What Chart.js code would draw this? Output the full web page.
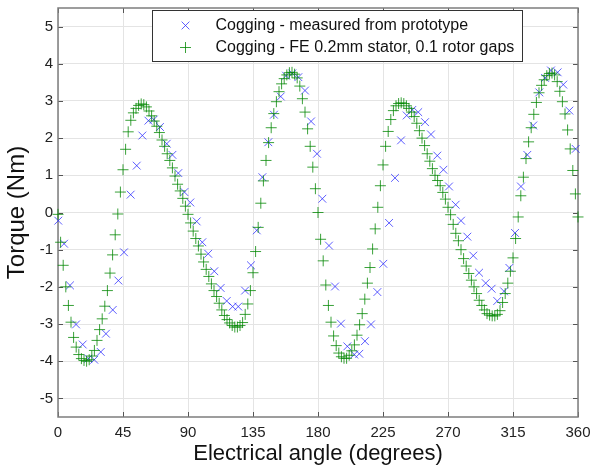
<!DOCTYPE html>
<html lang="en">
<head>
<meta charset="UTF-8">
<title>Cogging torque vs electrical angle</title>
<script src="https://cdn.jsdelivr.net/npm/chart.js"></script>
<style>
  body { margin: 0; background: #fff; }
  #wrap { width: 590px; height: 468px; }
</style>
</head>
<body>
<div id="wrap"><canvas id="cogChart" width="590" height="468"></canvas></div>
<script>
// axis ticks
const angleTicks = [0, 45, 90, 135, 180, 225, 270, 315, 360];
const torqueTicks = [-5, -4, -3, -2, -1, 0, 1, 2, 3, 4, 5];

const legendLabels = [
  'Cogging - measured from prototype',
  'Cogging - FE 0.2mm stator, 0.1 rotor gaps'
];

// measured on the prototype (irregular angles)
const measuredAngle = [
  0.2, 4.2, 8.3, 12.5, 17.1, 21.0, 25.1, 29.6, 33.2, 37.9,
  41.8, 45.7, 50.3, 54.5, 58.4, 62.6, 66.3, 70.6, 75.3, 79.2,
  83.3, 87.5, 91.6, 96.0, 99.9, 104.0, 108.2, 112.6, 116.8, 120.9,
  124.8, 129.5, 133.6, 137.6, 141.5, 145.6, 149.5, 154.2, 157.9, 162.2,
  166.4, 171.0, 175.2, 179.3, 183.0, 187.6, 191.8, 195.9, 200.3, 205.1,
  208.6, 212.5, 216.7, 221.1, 225.2, 229.2, 233.3, 237.5, 241.4, 245.3,
  249.4, 254.1, 258.2, 262.6, 266.8, 270.7, 275.3, 279.0, 283.4, 287.5,
  291.5, 296.1, 300.2, 304.1, 308.8, 312.5, 316.4, 320.5, 324.9, 329.0,
  333.2, 337.2, 341.3, 345.9, 349.8, 354.0, 358.4
];
const measuredTorque = [
  -0.22, -0.84, -1.96, -3.01, -3.55, -3.93, -3.96, -3.75, -3.26, -2.62,
  -1.83, -1.07, 0.48, 1.26, 2.07, 2.47, 2.50, 2.30, 1.85, 1.55,
  1.06, 0.55, 0.27, -0.24, -0.80, -1.11, -1.58, -2.03, -2.38, -2.53,
  -2.53, -2.10, -1.42, -0.48, 0.95, 1.89, 2.63, 3.12, 3.68, 3.74,
  3.64, 3.28, 2.45, 1.58, 0.37, -0.89, -1.99, -2.99, -3.60, -3.82,
  -3.80, -3.46, -3.01, -2.14, -1.38, -0.28, 0.93, 1.94, 2.61, 2.76,
  2.70, 2.43, 2.10, 1.53, 1.15, 0.70, 0.21, -0.22, -0.65, -1.16,
  -1.62, -1.90, -2.05, -2.38, -2.12, -1.49, -0.55, 0.70, 1.55, 2.34,
  3.23, 3.62, 3.82, 3.77, 3.44, 2.74, 1.71
];

// FE result, one value every 1.8 degrees from 0 to 360
const feStep = 1.8;
const feTorque = [
  -0.05, -0.80, -1.42, -2.00, -2.50, -2.95, -3.36, -3.62, -3.82, -3.93,
  -3.98, -4.00, -3.96, -3.86, -3.71, -3.44, -3.15, -2.86, -2.52, -2.10,
  -1.63, -1.14, -0.60, -0.04, 0.55, 1.15, 1.70, 2.17, 2.48, 2.68,
  2.80, 2.88, 2.92, 2.90, 2.84, 2.73, 2.60, 2.46, 2.32, 2.15,
  1.95, 1.78, 1.58, 1.40, 1.20, 0.98, 0.76, 0.58, 0.38, 0.17,
  -0.05, -0.28, -0.50, -0.70, -0.90, -1.12, -1.33, -1.53, -1.72, -1.92,
  -2.10, -2.26, -2.44, -2.62, -2.77, -2.88, -2.97, -3.04, -3.08, -3.08,
  -3.04, -2.96, -2.74, -2.46, -2.10, -1.62, -1.05, -0.40, 0.25, 0.85,
  1.40, 1.88, 2.28, 2.66, 2.98, 3.25, 3.46, 3.60, 3.70, 3.76,
  3.77, 3.72, 3.62, 3.40, 3.06, 2.70, 2.25, 1.78, 1.22, 0.64,
  0.00, -0.72, -1.30, -1.95, -2.50, -2.95, -3.32, -3.58, -3.78, -3.88,
  -3.92, -3.92, -3.84, -3.72, -3.56, -3.30, -3.02, -2.72, -2.33, -1.90,
  -1.48, -0.98, -0.44, 0.14, 0.72, 1.28, 1.78, 2.18, 2.50, 2.74,
  2.87, 2.93, 2.95, 2.93, 2.87, 2.80, 2.70, 2.58, 2.40, 2.20,
  2.00, 1.80, 1.58, 1.38, 1.18, 1.00, 0.86, 0.72, 0.54, 0.36,
  0.14, -0.06, -0.32, -0.56, -0.76, -1.00, -1.24, -1.44, -1.64, -1.82,
  -2.00, -2.18, -2.36, -2.50, -2.62, -2.72, -2.76, -2.78, -2.78, -2.74,
  -2.64, -2.42, -2.18, -1.90, -1.58, -1.22, -0.70, -0.12, 0.45, 0.95,
  1.45, 1.90, 2.28, 2.64, 2.96, 3.22, 3.42, 3.57, 3.68, 3.74,
  3.75, 3.70, 3.52, 3.26, 2.98, 2.65, 2.22, 1.71, 1.13, 0.50,
  -0.12
];

const blueMark = 'rgba(40, 40, 255, 0.75)';
const greenMark = 'rgba(0, 135, 0, 0.78)';

const measuredPoints = measuredAngle.map((a, i) => ({ x: a, y: measuredTorque[i] }));
const fePoints = feTorque.map((t, i) => ({ x: i * feStep, y: t }));

function drawCross(ctx, x, y, r, rotated) {
  ctx.beginPath();
  if (rotated) {
    const d = r * Math.SQRT1_2;
    ctx.moveTo(x - d, y - d); ctx.lineTo(x + d, y + d);
    ctx.moveTo(x - d, y + d); ctx.lineTo(x + d, y - d);
  } else {
    ctx.moveTo(x - r, y); ctx.lineTo(x + r, y);
    ctx.moveTo(x, y - r); ctx.lineTo(x, y + r);
  }
  ctx.stroke();
}

// plot frame, inward ticks and the boxed legend
const framePlugin = {
  id: 'frame',
  beforeDatasetsDraw(chart) {
    const { ctx, chartArea: a, scales } = chart;
    ctx.save();
    ctx.strokeStyle = '#555';
    ctx.lineWidth = 1;
    ctx.beginPath();
    angleTicks.forEach(v => {
      const px = Math.round(scales.x.getPixelForValue(v)) + 0.5;
      ctx.moveTo(px, a.bottom); ctx.lineTo(px, a.bottom - 5);
      ctx.moveTo(px, a.top); ctx.lineTo(px, a.top + 5);
    });
    torqueTicks.forEach(v => {
      const py = Math.round(scales.y.getPixelForValue(v)) + 0.5;
      ctx.moveTo(a.left, py); ctx.lineTo(a.left + 5, py);
      ctx.moveTo(a.right, py); ctx.lineTo(a.right - 5, py);
    });
    ctx.stroke();
    ctx.strokeStyle = '#7d7d7d';
    ctx.lineWidth = 1.5;
    ctx.strokeRect(a.left, a.top, a.right - a.left, a.bottom - a.top);
    ctx.restore();
  },
  afterDraw(chart) {
    const { ctx, chartArea: a } = chart;
    const bx = a.left + 94.5, by = a.top + 2.5, bw = 370, bh = 51;
    ctx.save();
    ctx.fillStyle = '#fff';
    ctx.fillRect(bx, by, bw, bh);
    ctx.strokeStyle = '#333';
    ctx.lineWidth = 1;
    ctx.strokeRect(bx, by, bw, bh);
    ctx.font = '16px "Liberation Sans", Arial, sans-serif';
    ctx.fillStyle = '#111';
    ctx.textBaseline = 'middle';
    ctx.strokeStyle = blueMark;
    drawCross(ctx, bx + 33, by + 15, 5.5, true);
    ctx.strokeStyle = greenMark;
    drawCross(ctx, bx + 33, by + 37, 5.5, false);
    ctx.fillText(legendLabels[0], bx + 63, by + 15);
    ctx.fillText(legendLabels[1], bx + 63, by + 37);
    ctx.restore();
  }
};

const tickFont = { family: '"Liberation Sans", Arial, sans-serif', size: 15 };
const titleFont = { family: '"Liberation Sans", Arial, sans-serif', size: 22 };

new Chart(document.getElementById('cogChart'), {
  type: 'scatter',
  data: {
    datasets: [
      {
        label: legendLabels[0],
        data: measuredPoints,
        pointStyle: 'crossRot',
        radius: 5.5,
        borderWidth: 1,
        borderColor: blueMark,
        backgroundColor: blueMark,
        clip: false,
        order: 2
      },
      {
        label: legendLabels[1],
        data: fePoints,
        pointStyle: 'cross',
        radius: 5.5,
        borderWidth: 1,
        borderColor: greenMark,
        backgroundColor: greenMark,
        clip: false,
        order: 1
      }
    ]
  },
  options: {
    responsive: false,
    animation: false,
    devicePixelRatio: 1,
    layout: { padding: { top: 8, right: 12, left: 0, bottom: 0 } },
    plugins: {
      legend: { display: false },
      tooltip: { enabled: false }
    },
    scales: {
      x: {
        type: 'linear',
        min: 0,
        max: 360,
        afterBuildTicks: s => { s.ticks = angleTicks.map(v => ({ value: v })); },
        afterFit: s => { s.height = 51; s.paddingLeft = 0; s.paddingRight = 0; },
        grid: { color: '#e4e4e4', drawTicks: false },
        border: { display: false },
        ticks: { font: tickFont, color: '#222', padding: 7, maxRotation: 0 },
        title: {
          display: true,
          text: 'Electrical angle (degrees)',
          font: { ...titleFont, lineHeight: 1.3 },
          color: '#111',
          padding: 0
        }
      },
      y: {
        min: -5.5,
        max: 5.5,
        afterBuildTicks: s => { s.ticks = torqueTicks.map(v => ({ value: v })); },
        afterFit: s => { s.width = 58; s.paddingTop = 0; s.paddingBottom = 0; },
        grid: { color: '#e4e4e4', drawTicks: false },
        border: { display: false },
        ticks: { font: tickFont, color: '#222', padding: 5 },
        title: {
          display: true,
          text: 'Torque (Nm)',
          font: { ...titleFont, size: 24, lineHeight: 1.45 },
          color: '#111',
          padding: 0
        }
      }
    }
  },
  plugins: [framePlugin]
});
</script>
</body>
</html>
